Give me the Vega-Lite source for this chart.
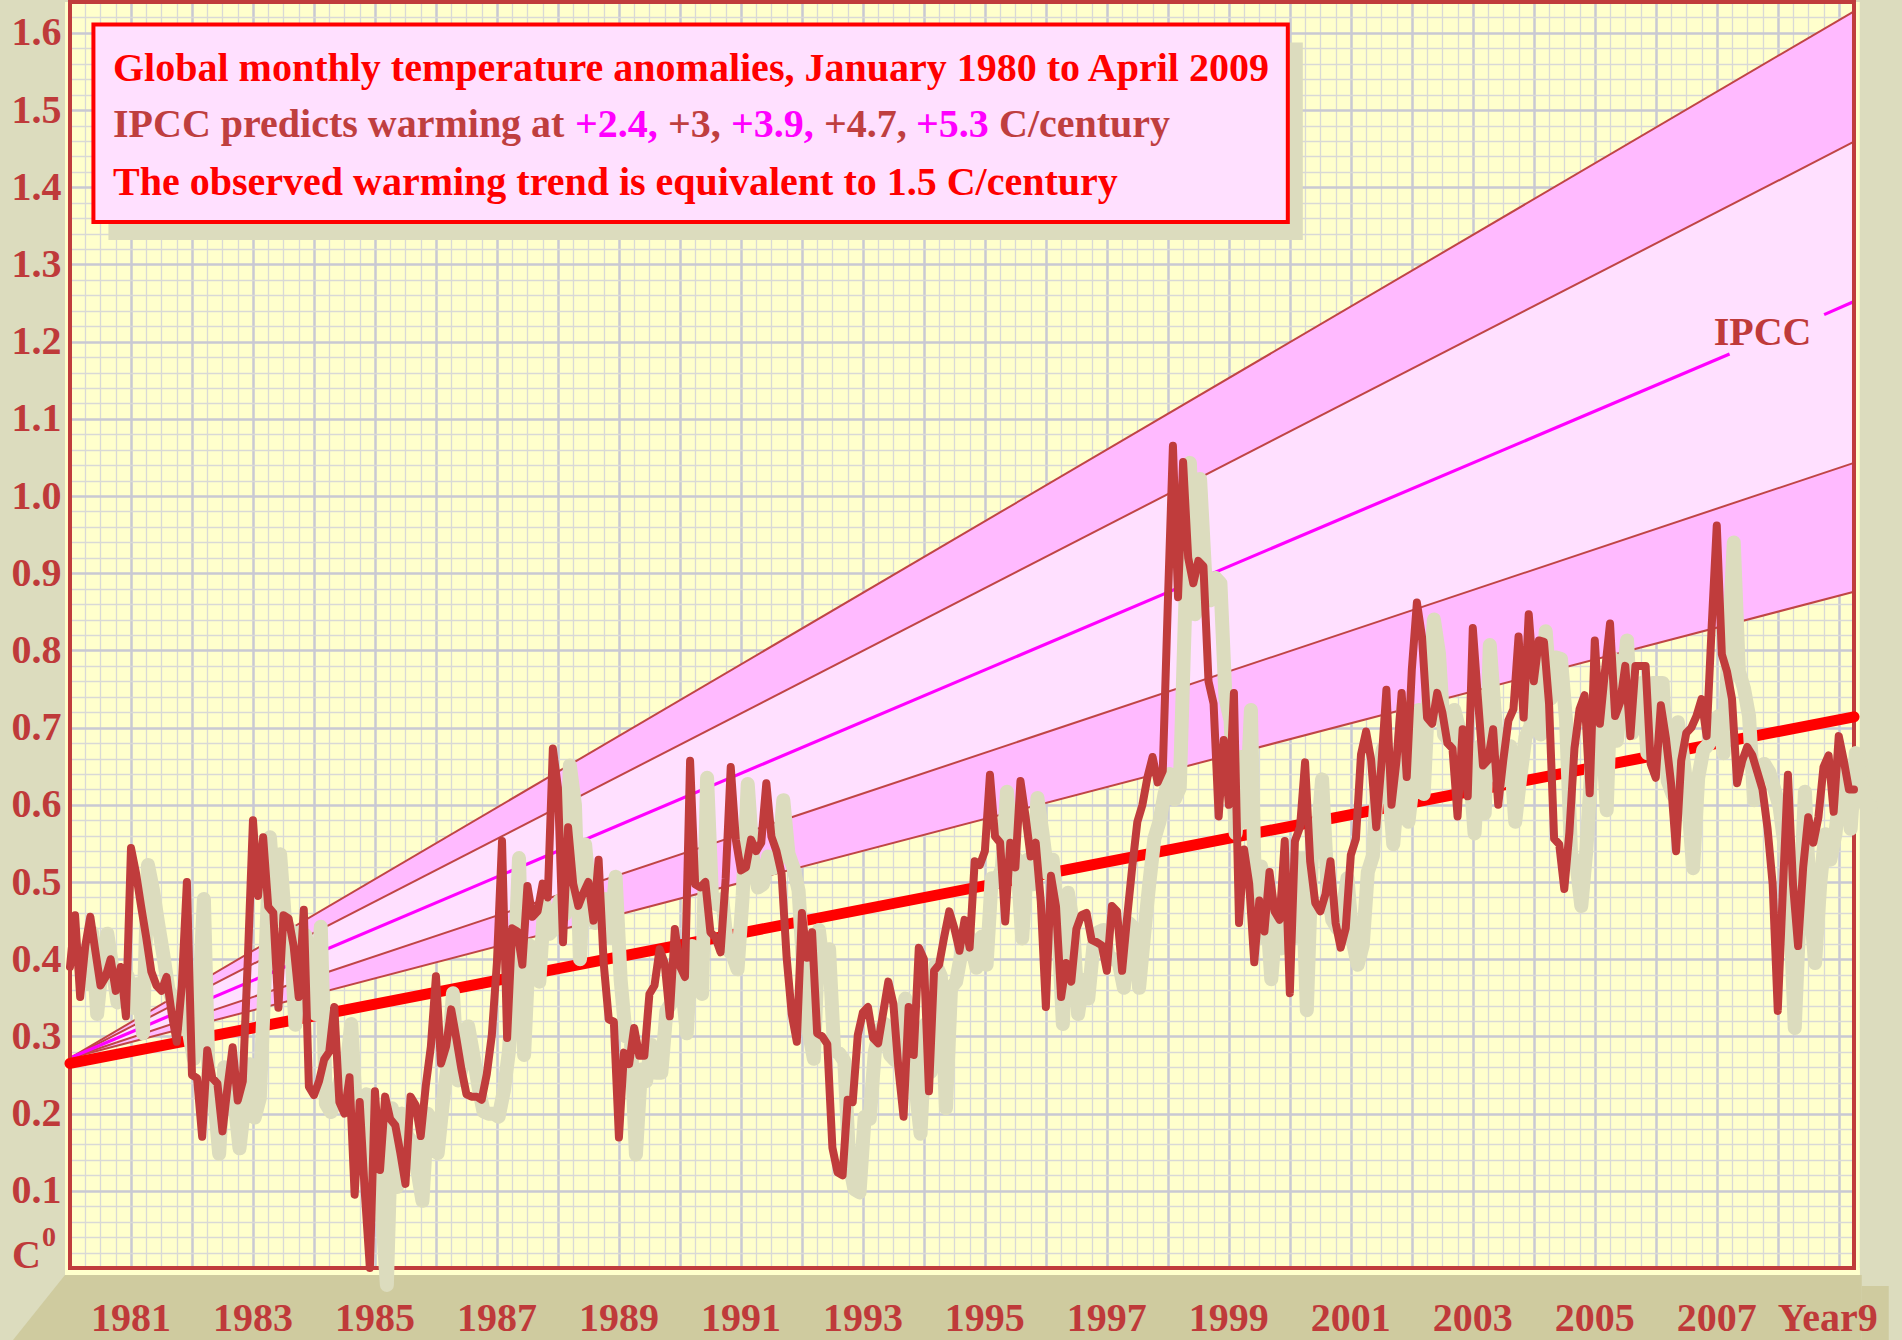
{
 "$schema": "https://vega.github.io/schema/vega-lite/v6.json",
 "width": 1784,
 "height": 1266,
 "autosize": {"type": "none"},
 "padding": {"left": 70, "top": 2, "right": 48, "bottom": 72},
 "background": "#DCDCBE",
 "config": {
  "view": {"stroke": null, "fill": "#FFFFCC"},
  "text": {"font": "Liberation Serif", "fontWeight": "bold", "fontSize": 40}
 },
 "datasets": {
  "one": [{}],
  "years": [{"yr": 1981}, {"yr": 1983}, {"yr": 1985}, {"yr": 1987}, {"yr": 1989}, {"yr": 1991}, {"yr": 1993}, {"yr": 1995}, {"yr": 1997}, {"yr": 1999}, {"yr": 2001}, {"yr": 2003}, {"yr": 2005}, {"yr": 2007}],
  "ipcc": [
   {"t": 1980, "a": 0.272, "b": 0.272, "d": 0.272, "e": 0.272, "tr": 0.265},
   {"t": 2009.25, "a": 1.628, "b": 1.459, "d": 1.043, "e": 0.876, "tr": 0.714}
  ],
  "mag": [
   {"t": 1980, "v": 0.272, "s": 1},
   {"t": 2007.21, "v": 1.184, "s": 1},
   {"t": 2008.76, "v": 1.235, "s": 2},
   {"t": 2009.25, "v": 1.252, "s": 2}
  ],
  "temp": [
   {"t":1980,"v":0.39},{"t":1980.0833,"v":0.457},{"t":1980.1667,"v":0.351},{"t":1980.25,"v":0.417},{"t":1980.3333,"v":0.455},{"t":1980.4167,"v":0.41},{"t":1980.5,"v":0.366},{"t":1980.5833,"v":0.377},{"t":1980.6667,"v":0.4},{"t":1980.75,"v":0.359},{"t":1980.8333,"v":0.39},{"t":1980.9167,"v":0.326},
   {"t":1981,"v":0.544},{"t":1981.0833,"v":0.511},{"t":1981.1667,"v":0.468},{"t":1981.25,"v":0.428},{"t":1981.3333,"v":0.384},{"t":1981.4167,"v":0.366},{"t":1981.5,"v":0.359},{"t":1981.5833,"v":0.377},{"t":1981.6667,"v":0.33},{"t":1981.75,"v":0.293},{"t":1981.8333,"v":0.366},{"t":1981.9167,"v":0.5},
   {"t":1982,"v":0.25},{"t":1982.0833,"v":0.246},{"t":1982.1667,"v":0.17},{"t":1982.25,"v":0.282},{"t":1982.3333,"v":0.246},{"t":1982.4167,"v":0.239},{"t":1982.5,"v":0.177},{"t":1982.5833,"v":0.235},{"t":1982.6667,"v":0.286},{"t":1982.75,"v":0.217},{"t":1982.8333,"v":0.242},{"t":1982.9167,"v":0.402},
   {"t":1983,"v":0.58},{"t":1983.0833,"v":0.482},{"t":1983.1667,"v":0.558},{"t":1983.25,"v":0.468},{"t":1983.3333,"v":0.46},{"t":1983.4167,"v":0.337},{"t":1983.5,"v":0.457},{"t":1983.5833,"v":0.453},{"t":1983.6667,"v":0.417},{"t":1983.75,"v":0.351},{"t":1983.8333,"v":0.464},{"t":1983.9167,"v":0.235},
   {"t":1984,"v":0.224},{"t":1984.0833,"v":0.242},{"t":1984.1667,"v":0.27},{"t":1984.25,"v":0.28},{"t":1984.3333,"v":0.338},{"t":1984.4167,"v":0.215},{"t":1984.5,"v":0.2},{"t":1984.5833,"v":0.247},{"t":1984.6667,"v":0.095},{"t":1984.75,"v":0.215},{"t":1984.8333,"v":0.098},{"t":1984.9167,"v":0.0},
   {"t":1985,"v":0.229},{"t":1985.0833,"v":0.127},{"t":1985.1667,"v":0.222},{"t":1985.25,"v":0.193},{"t":1985.3333,"v":0.185},{"t":1985.4167,"v":0.149},{"t":1985.5,"v":0.109},{"t":1985.5833,"v":0.222},{"t":1985.6667,"v":0.211},{"t":1985.75,"v":0.171},{"t":1985.8333,"v":0.236},{"t":1985.9167,"v":0.287},
   {"t":1986,"v":0.378},{"t":1986.0833,"v":0.265},{"t":1986.1667,"v":0.287},{"t":1986.25,"v":0.335},{"t":1986.3333,"v":0.298},{"t":1986.4167,"v":0.258},{"t":1986.5,"v":0.225},{"t":1986.5833,"v":0.222},{"t":1986.6667,"v":0.222},{"t":1986.75,"v":0.218},{"t":1986.8333,"v":0.251},{"t":1986.9167,"v":0.302},
   {"t":1987,"v":0.396},{"t":1987.0833,"v":0.553},{"t":1987.1667,"v":0.298},{"t":1987.25,"v":0.44},{"t":1987.3333,"v":0.436},{"t":1987.4167,"v":0.393},{"t":1987.5,"v":0.495},{"t":1987.5833,"v":0.455},{"t":1987.6667,"v":0.462},{"t":1987.75,"v":0.498},{"t":1987.8333,"v":0.48},{"t":1987.9167,"v":0.673},
   {"t":1988,"v":0.622},{"t":1988.0833,"v":0.422},{"t":1988.1667,"v":0.571},{"t":1988.25,"v":0.498},{"t":1988.3333,"v":0.469},{"t":1988.4167,"v":0.486},{"t":1988.5,"v":0.5},{"t":1988.5833,"v":0.45},{"t":1988.6667,"v":0.529},{"t":1988.75,"v":0.395},{"t":1988.8333,"v":0.322},{"t":1988.9167,"v":0.319},
   {"t":1989,"v":0.169},{"t":1989.0833,"v":0.279},{"t":1989.1667,"v":0.264},{"t":1989.25,"v":0.311},{"t":1989.3333,"v":0.275},{"t":1989.4167,"v":0.275},{"t":1989.5,"v":0.355},{"t":1989.5833,"v":0.366},{"t":1989.6667,"v":0.413},{"t":1989.75,"v":0.395},{"t":1989.8333,"v":0.326},{"t":1989.9167,"v":0.439},
   {"t":1990,"v":0.391},{"t":1990.0833,"v":0.377},{"t":1990.1667,"v":0.657},{"t":1990.25,"v":0.497},{"t":1990.3333,"v":0.493},{"t":1990.4167,"v":0.5},{"t":1990.5,"v":0.435},{"t":1990.5833,"v":0.428},{"t":1990.6667,"v":0.409},{"t":1990.75,"v":0.504},{"t":1990.8333,"v":0.649},{"t":1990.9167,"v":0.555},
   {"t":1991,"v":0.515},{"t":1991.0833,"v":0.519},{"t":1991.1667,"v":0.555},{"t":1991.25,"v":0.54},{"t":1991.3333,"v":0.551},{"t":1991.4167,"v":0.628},{"t":1991.5,"v":0.559},{"t":1991.5833,"v":0.54},{"t":1991.6667,"v":0.511},{"t":1991.75,"v":0.402},{"t":1991.8333,"v":0.329},{"t":1991.9167,"v":0.293},
   {"t":1992,"v":0.46},{"t":1992.0833,"v":0.402},{"t":1992.1667,"v":0.435},{"t":1992.25,"v":0.304},{"t":1992.3333,"v":0.3},{"t":1992.4167,"v":0.29},{"t":1992.5,"v":0.156},{"t":1992.5833,"v":0.124},{"t":1992.6667,"v":0.12},{"t":1992.75,"v":0.218},{"t":1992.8333,"v":0.215},{"t":1992.9167,"v":0.302},
   {"t":1993,"v":0.331},{"t":1993.0833,"v":0.338},{"t":1993.1667,"v":0.298},{"t":1993.25,"v":0.291},{"t":1993.3333,"v":0.331},{"t":1993.4167,"v":0.371},{"t":1993.5,"v":0.342},{"t":1993.5833,"v":0.258},{"t":1993.6667,"v":0.196},{"t":1993.75,"v":0.338},{"t":1993.8333,"v":0.276},{"t":1993.9167,"v":0.415},
   {"t":1994,"v":0.4},{"t":1994.0833,"v":0.229},{"t":1994.1667,"v":0.385},{"t":1994.25,"v":0.393},{"t":1994.3333,"v":0.429},{"t":1994.4167,"v":0.462},{"t":1994.5,"v":0.44},{"t":1994.5833,"v":0.411},{"t":1994.6667,"v":0.451},{"t":1994.75,"v":0.415},{"t":1994.8333,"v":0.527},{"t":1994.9167,"v":0.522},
   {"t":1995,"v":0.54},{"t":1995.0833,"v":0.639},{"t":1995.1667,"v":0.559},{"t":1995.25,"v":0.551},{"t":1995.3333,"v":0.449},{"t":1995.4167,"v":0.551},{"t":1995.5,"v":0.519},{"t":1995.5833,"v":0.631},{"t":1995.6667,"v":0.585},{"t":1995.75,"v":0.533},{"t":1995.8333,"v":0.551},{"t":1995.9167,"v":0.475},
   {"t":1996,"v":0.338},{"t":1996.0833,"v":0.508},{"t":1996.1667,"v":0.468},{"t":1996.25,"v":0.351},{"t":1996.3333,"v":0.395},{"t":1996.4167,"v":0.371},{"t":1996.5,"v":0.439},{"t":1996.5833,"v":0.457},{"t":1996.6667,"v":0.46},{"t":1996.75,"v":0.425},{"t":1996.8333,"v":0.422},{"t":1996.9167,"v":0.418},
   {"t":1997,"v":0.385},{"t":1997.0833,"v":0.469},{"t":1997.1667,"v":0.462},{"t":1997.25,"v":0.385},{"t":1997.3333,"v":0.455},{"t":1997.4167,"v":0.52},{"t":1997.5,"v":0.578},{"t":1997.5833,"v":0.6},{"t":1997.6667,"v":0.636},{"t":1997.75,"v":0.662},{"t":1997.8333,"v":0.629},{"t":1997.9167,"v":0.644},
   {"t":1998,"v":0.862},{"t":1998.0833,"v":1.065},{"t":1998.1667,"v":0.869},{"t":1998.25,"v":1.044},{"t":1998.3333,"v":0.92},{"t":1998.4167,"v":0.887},{"t":1998.5,"v":0.916},{"t":1998.5833,"v":0.909},{"t":1998.6667,"v":0.76},{"t":1998.75,"v":0.731},{"t":1998.8333,"v":0.585},{"t":1998.9167,"v":0.684},
   {"t":1999,"v":0.6},{"t":1999.0833,"v":0.745},{"t":1999.1667,"v":0.447},{"t":1999.25,"v":0.542},{"t":1999.3333,"v":0.498},{"t":1999.4167,"v":0.396},{"t":1999.5,"v":0.476},{"t":1999.5833,"v":0.436},{"t":1999.6667,"v":0.513},{"t":1999.75,"v":0.462},{"t":1999.8333,"v":0.451},{"t":1999.9167,"v":0.553},
   {"t":2000,"v":0.356},{"t":2000.0833,"v":0.553},{"t":2000.1667,"v":0.571},{"t":2000.25,"v":0.655},{"t":2000.3333,"v":0.527},{"t":2000.4167,"v":0.473},{"t":2000.5,"v":0.462},{"t":2000.5833,"v":0.484},{"t":2000.6667,"v":0.527},{"t":2000.75,"v":0.447},{"t":2000.8333,"v":0.415},{"t":2000.9167,"v":0.44},
   {"t":2001,"v":0.535},{"t":2001.0833,"v":0.556},{"t":2001.1667,"v":0.665},{"t":2001.25,"v":0.695},{"t":2001.3333,"v":0.658},{"t":2001.4167,"v":0.571},{"t":2001.5,"v":0.651},{"t":2001.5833,"v":0.749},{"t":2001.6667,"v":0.6},{"t":2001.75,"v":0.658},{"t":2001.8333,"v":0.745},{"t":2001.9167,"v":0.636},
   {"t":2002,"v":0.775},{"t":2002.0833,"v":0.862},{"t":2002.1667,"v":0.818},{"t":2002.25,"v":0.713},{"t":2002.3333,"v":0.705},{"t":2002.4167,"v":0.745},{"t":2002.5,"v":0.72},{"t":2002.5833,"v":0.68},{"t":2002.6667,"v":0.673},{"t":2002.75,"v":0.585},{"t":2002.8333,"v":0.698},{"t":2002.9167,"v":0.611},
   {"t":2003,"v":0.829},{"t":2003.0833,"v":0.738},{"t":2003.1667,"v":0.651},{"t":2003.25,"v":0.658},{"t":2003.3333,"v":0.698},{"t":2003.4167,"v":0.6},{"t":2003.5,"v":0.658},{"t":2003.5833,"v":0.709},{"t":2003.6667,"v":0.724},{"t":2003.75,"v":0.818},{"t":2003.8333,"v":0.713},{"t":2003.9167,"v":0.847},
   {"t":2004,"v":0.76},{"t":2004.0833,"v":0.813},{"t":2004.1667,"v":0.811},{"t":2004.25,"v":0.731},{"t":2004.3333,"v":0.556},{"t":2004.4167,"v":0.549},{"t":2004.5,"v":0.491},{"t":2004.5833,"v":0.564},{"t":2004.6667,"v":0.673},{"t":2004.75,"v":0.724},{"t":2004.8333,"v":0.742},{"t":2004.9167,"v":0.615},
   {"t":2005,"v":0.813},{"t":2005.0833,"v":0.705},{"t":2005.1667,"v":0.773},{"t":2005.25,"v":0.835},{"t":2005.3333,"v":0.715},{"t":2005.4167,"v":0.733},{"t":2005.5,"v":0.78},{"t":2005.5833,"v":0.689},{"t":2005.6667,"v":0.78},{"t":2005.75,"v":0.78},{"t":2005.8333,"v":0.78},{"t":2005.9167,"v":0.653},
   {"t":2006,"v":0.635},{"t":2006.0833,"v":0.729},{"t":2006.1667,"v":0.686},{"t":2006.25,"v":0.628},{"t":2006.3333,"v":0.54},{"t":2006.4167,"v":0.657},{"t":2006.5,"v":0.693},{"t":2006.5833,"v":0.7},{"t":2006.6667,"v":0.715},{"t":2006.75,"v":0.737},{"t":2006.8333,"v":0.689},{"t":2006.9167,"v":0.831},
   {"t":2007,"v":0.962},{"t":2007.0833,"v":0.795},{"t":2007.1667,"v":0.773},{"t":2007.25,"v":0.737},{"t":2007.3333,"v":0.628},{"t":2007.4167,"v":0.657},{"t":2007.5,"v":0.675},{"t":2007.5833,"v":0.664},{"t":2007.6667,"v":0.642},{"t":2007.75,"v":0.62},{"t":2007.8333,"v":0.569},{"t":2007.9167,"v":0.497},
   {"t":2008,"v":0.333},{"t":2008.0833,"v":0.489},{"t":2008.1667,"v":0.639},{"t":2008.25,"v":0.497},{"t":2008.3333,"v":0.417},{"t":2008.4167,"v":0.519},{"t":2008.5,"v":0.584},{"t":2008.5833,"v":0.551},{"t":2008.6667,"v":0.584},{"t":2008.75,"v":0.649},{"t":2008.8333,"v":0.664},{"t":2008.9167,"v":0.591},
   {"t":2009,"v":0.689},{"t":2009.0833,"v":0.657},{"t":2009.1667,"v":0.62},{"t":2009.25,"v":0.62}
  ]
 },
 "layer": [
  {"data": {"name": "one"}, "mark": {"type": "rect", "color": "#CFCB9F"}, "encoding": {"x": {"datum": 1979.918}, "x2": {"datum": 2009.377}, "y": {"datum": -0.009}, "y2": {"datum": -0.12}}},
  {"data": {"name": "one"}, "mark": {"type": "rect", "color": "#CFCB9F"}, "encoding": {"x": {"datum": 2009.377}, "x2": {"datum": 2009.82}, "y": {"datum": -0.0233}, "y2": {"datum": -0.12}}},
  {"data": {"name": "one"}, "mark": {"type": "point", "shape": "M1,-1L1,1L-0.6,1Z", "size": 4225, "filled": true, "color": "#CFCB9F", "opacity": 1, "strokeWidth": 0}, "encoding": {"x": {"datum": 1979.385}, "y": {"datum": -0.0512}}},
  {"data": {"name": "one"}, "mark": {"type": "rect", "color": "#FFFFCC"}, "encoding": {"x": {"datum": 1979.918}, "x2": {"datum": 1980}, "y": {"datum": -0.009}, "y2": {"datum": 1.64}}},
  {"data": {"name": "one"}, "mark": {"type": "rect", "color": "#FFFFCC"}, "encoding": {"x": {"datum": 2009.25}, "x2": {"datum": 2009.344}, "y": {"datum": -0.009}, "y2": {"datum": 1.64}}},
  {"data": {"name": "one"}, "mark": {"type": "rect", "color": "#FFFFCC"}, "encoding": {"x": {"datum": 1979.918}, "x2": {"datum": 2009.344}, "y": {"datum": -0.009}, "y2": {"datum": 0}}},
  {"data": {"name": "years"}, "mark": {"type": "text", "align": "center", "baseline": "alphabetic", "color": "#BF3A3A"}, "encoding": {"x": {"field": "yr", "type": "quantitative", "title": null}, "y": {"datum": -0.0816}, "text": {"field": "yr", "type": "nominal"}}},
  {"data": {"name": "one"}, "mark": {"type": "rect", "color": "#DCDCBE", "xOffset": 15, "x2Offset": 15, "yOffset": 18, "y2Offset": 18}, "encoding": {"x": {"datum": 1980.384}, "x2": {"datum": 1999.967}, "y": {"datum": 1.355}, "y2": {"datum": 1.611}}},
  {"data": {"name": "one"}, "mark": {"type": "rect", "fill": "#FFE0FF", "stroke": "#FF0000", "strokeWidth": 4}, "encoding": {"x": {"datum": 1980.384}, "x2": {"datum": 1999.967}, "y": {"datum": 1.355}, "y2": {"datum": 1.611}}},
  {"data": {"name": "one"}, "mark": {"type": "text", "text": "Global monthly temperature anomalies, January 1980 to April 2009", "align": "left", "baseline": "alphabetic", "color": "#FF0000"}, "encoding": {"x": {"datum": 1980.705}, "y": {"datum": 1.5376}}},
  {"data": {"name": "one"}, "mark": {"type": "text", "text": "IPCC predicts warming at", "align": "left", "baseline": "alphabetic", "color": "#BF3F3F"}, "encoding": {"x": {"datum": 1980.705}, "y": {"datum": 1.465}}},
  {"data": {"name": "one"}, "mark": {"type": "text", "text": "+2.4,", "align": "left", "baseline": "alphabetic", "color": "#FF00FF", "dx": 462}, "encoding": {"x": {"datum": 1980.705}, "y": {"datum": 1.465}}},
  {"data": {"name": "one"}, "mark": {"type": "text", "text": "+3,", "align": "left", "baseline": "alphabetic", "color": "#BF3F3F", "dx": 555}, "encoding": {"x": {"datum": 1980.705}, "y": {"datum": 1.465}}},
  {"data": {"name": "one"}, "mark": {"type": "text", "text": "+3.9,", "align": "left", "baseline": "alphabetic", "color": "#FF00FF", "dx": 618}, "encoding": {"x": {"datum": 1980.705}, "y": {"datum": 1.465}}},
  {"data": {"name": "one"}, "mark": {"type": "text", "text": "+4.7,", "align": "left", "baseline": "alphabetic", "color": "#BF3F3F", "dx": 711}, "encoding": {"x": {"datum": 1980.705}, "y": {"datum": 1.465}}},
  {"data": {"name": "one"}, "mark": {"type": "text", "text": "+5.3", "align": "left", "baseline": "alphabetic", "color": "#FF00FF", "dx": 803}, "encoding": {"x": {"datum": 1980.705}, "y": {"datum": 1.465}}},
  {"data": {"name": "one"}, "mark": {"type": "text", "text": "C/century", "align": "left", "baseline": "alphabetic", "color": "#BF3F3F", "dx": 886}, "encoding": {"x": {"datum": 1980.705}, "y": {"datum": 1.465}}},
  {"data": {"name": "one"}, "mark": {"type": "text", "text": "The observed warming trend is equivalent to 1.5 C/century", "align": "left", "baseline": "alphabetic", "color": "#FF0000"}, "encoding": {"x": {"datum": 1980.705}, "y": {"datum": 1.39}}},
  {"data": {"name": "ipcc"}, "mark": {"type": "area", "color": "#FFBAFF", "opacity": 1}, "encoding": {"x": {"field": "t", "type": "quantitative", "title": null}, "y": {"field": "a", "type": "quantitative", "title": null}, "y2": {"field": "b"}}},
  {"data": {"name": "ipcc"}, "mark": {"type": "area", "color": "#FFE0FF", "opacity": 1}, "encoding": {"x": {"field": "t", "type": "quantitative", "title": null}, "y": {"field": "b", "type": "quantitative", "title": null}, "y2": {"field": "d"}}},
  {"data": {"name": "ipcc"}, "mark": {"type": "area", "color": "#FFBAFF", "opacity": 1}, "encoding": {"x": {"field": "t", "type": "quantitative", "title": null}, "y": {"field": "d", "type": "quantitative", "title": null}, "y2": {"field": "e"}}},
  {"data": {"name": "ipcc"}, "mark": {"type": "line", "color": "#C04545", "strokeWidth": 2}, "encoding": {"x": {"field": "t", "type": "quantitative", "title": null}, "y": {"field": "a", "type": "quantitative", "title": null}}},
  {"data": {"name": "ipcc"}, "mark": {"type": "line", "color": "#C04545", "strokeWidth": 2}, "encoding": {"x": {"field": "t", "type": "quantitative", "title": null}, "y": {"field": "b", "type": "quantitative", "title": null}}},
  {"data": {"name": "ipcc"}, "mark": {"type": "line", "color": "#C04545", "strokeWidth": 2}, "encoding": {"x": {"field": "t", "type": "quantitative", "title": null}, "y": {"field": "d", "type": "quantitative", "title": null}}},
  {"data": {"name": "ipcc"}, "mark": {"type": "line", "color": "#C04545", "strokeWidth": 2}, "encoding": {"x": {"field": "t", "type": "quantitative", "title": null}, "y": {"field": "e", "type": "quantitative", "title": null}}},
  {"data": {"name": "mag"}, "mark": {"type": "line", "color": "#FF00FF", "strokeWidth": 3.2}, "encoding": {"x": {"field": "t", "type": "quantitative", "title": null}, "y": {"field": "v", "type": "quantitative", "title": null}, "detail": {"field": "s"}}},
  {"data": {"name": "one"}, "mark": {"type": "text", "text": "IPCC", "align": "left", "baseline": "alphabetic", "color": "#BF3A3A"}, "encoding": {"x": {"datum": 2006.95}, "y": {"datum": 1.1956}}},
  {"data": {"name": "one"}, "mark": {"type": "rect", "filled": false, "stroke": "#C03C3C", "strokeWidth": 4}, "encoding": {"x": {"datum": 1980}, "x2": {"datum": 2009.25}, "y": {"datum": 0}, "y2": {"datum": 1.64}}},
  {"data": {"name": "ipcc"}, "mark": {"type": "line", "color": "#FF0000", "strokeWidth": 11, "strokeCap": "round"}, "encoding": {"x": {"field": "t", "type": "quantitative", "title": null}, "y": {"field": "tr", "type": "quantitative", "title": null}}},
  {"data": {"name": "temp"}, "mark": {"type": "line", "color": "#DCDCBE", "strokeWidth": 14, "strokeCap": "round", "strokeJoin": "round", "xOffset": 17, "yOffset": 17},
   "encoding": {
    "x": {"field": "t", "type": "quantitative", "title": null,
     "scale": {"domain": [1980, 2009.25], "nice": false, "zero": false},
     "axis": {"title": null, "domain": false, "ticks": false, "tickSize": 0, "tickCount": 500, "labels": false,
      "grid": true,
      "gridColor": {"condition": {"test": "datum.value % 1 == 0", "value": "#C9C9D3"}, "value": "#D9D9D6"},
      "gridWidth": {"condition": {"test": "datum.value % 1 == 0", "value": 2.5}, "value": 1.3},
      "values": [1980,1980.25,1980.5,1980.75,1981,1981.25,1981.5,1981.75,1982,1982.25,1982.5,1982.75,1983,1983.25,1983.5,1983.75,1984,1984.25,1984.5,1984.75,1985,1985.25,1985.5,1985.75,1986,1986.25,1986.5,1986.75,1987,1987.25,1987.5,1987.75,1988,1988.25,1988.5,1988.75,1989,1989.25,1989.5,1989.75,1990,1990.25,1990.5,1990.75,1991,1991.25,1991.5,1991.75,1992,1992.25,1992.5,1992.75,1993,1993.25,1993.5,1993.75,1994,1994.25,1994.5,1994.75,1995,1995.25,1995.5,1995.75,1996,1996.25,1996.5,1996.75,1997,1997.25,1997.5,1997.75,1998,1998.25,1998.5,1998.75,1999,1999.25,1999.5,1999.75,2000,2000.25,2000.5,2000.75,2001,2001.25,2001.5,2001.75,2002,2002.25,2002.5,2002.75,2003,2003.25,2003.5,2003.75,2004,2004.25,2004.5,2004.75,2005,2005.25,2005.5,2005.75,2006,2006.25,2006.5,2006.75,2007,2007.25,2007.5,2007.75,2008,2008.25,2008.5,2008.75,2009,2009.25]
     }},
    "y": {"field": "v", "type": "quantitative", "title": null,
     "scale": {"domain": [0, 1.64], "nice": false, "zero": false},
     "axis": {"title": null, "domain": false, "ticks": false, "tickSize": 0, "tickCount": 500, "labelPadding": 9,
      "labelFont": "Liberation Serif", "labelFontWeight": "bold", "labelFontSize": 40, "labelColor": "#BF3A3A",
      "labelOverlap": false, "labelFlush": false, "labelBound": false,
      "labelExpr": "datum.value > 0.05 && abs(datum.value * 10 - round(datum.value * 10)) < 0.001 ? format(datum.value, '.1f') : ''",
      "grid": true,
      "gridColor": {"condition": {"test": "abs(datum.value * 10 - round(datum.value * 10)) < 0.001", "value": "#C9C9D3"}, "value": "#D9D9D6"},
      "gridWidth": {"condition": {"test": "abs(datum.value * 10 - round(datum.value * 10)) < 0.001", "value": 2.5}, "value": 1.3},
      "values": [0,0.02,0.04,0.06,0.08,0.1,0.12,0.14,0.16,0.18,0.2,0.22,0.24,0.26,0.28,0.3,0.32,0.34,0.36,0.38,0.4,0.42,0.44,0.46,0.48,0.5,0.52,0.54,0.56,0.58,0.6,0.62,0.64,0.66,0.68,0.7,0.72,0.74,0.76,0.78,0.8,0.82,0.84,0.86,0.88,0.9,0.92,0.94,0.96,0.98,1,1.02,1.04,1.06,1.08,1.1,1.12,1.14,1.16,1.18,1.2,1.22,1.24,1.26,1.28,1.3,1.32,1.34,1.36,1.38,1.4,1.42,1.44,1.46,1.48,1.5,1.52,1.54,1.56,1.58,1.6,1.62,1.64]
     }}
   }},
  {"data": {"name": "temp"}, "mark": {"type": "line", "color": "#C03C3C", "strokeWidth": 8, "strokeCap": "round", "strokeJoin": "round"}, "encoding": {"x": {"field": "t", "type": "quantitative", "title": null}, "y": {"field": "v", "type": "quantitative", "title": null}}},
  {"data": {"name": "one"}, "mark": {"type": "text", "text": "Year9", "align": "right", "baseline": "alphabetic", "color": "#BF3A3A"}, "encoding": {"x": {"datum": 2009.64}, "y": {"datum": -0.0816}}},
  {"data": {"name": "one"}, "mark": {"type": "text", "text": "C", "align": "left", "baseline": "alphabetic", "color": "#BF3A3A"}, "encoding": {"x": {"datum": 1979.049}, "y": {"datum": 0}}},
  {"data": {"name": "one"}, "mark": {"type": "text", "text": "0", "align": "left", "baseline": "alphabetic", "color": "#BF3A3A", "fontSize": 28}, "encoding": {"x": {"datum": 1979.541}, "y": {"datum": 0.0285}}}
 ]
}
